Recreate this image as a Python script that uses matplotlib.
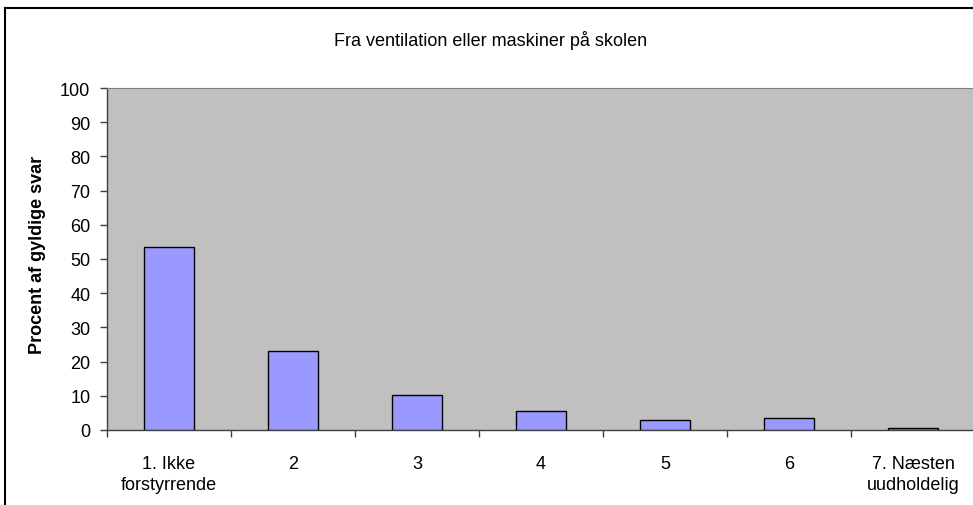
import matplotlib.pyplot as plt
from matplotlib.lines import Line2D
from matplotlib.ticker import FixedLocator

plt.rcParams["font.family"] = ["Liberation Sans", "DejaVu Sans"]

categories = ["1. Ikke\nforstyrrende", "2", "3", "4", "5", "6", "7. Næsten\nuudholdelig"]
values = [53.5, 23.1, 10.2, 5.6, 2.8, 3.6, 0.7]
title = "Fra ventilation eller maskiner på skolen"
ylabel = "Procent af gyldige svar"

fig = plt.figure(figsize=(9.73, 5.06), dpi=100)
ax = fig.add_axes([107 / 973, 1 - 431 / 506, 868 / 973, 342 / 506])

x = list(range(len(categories)))
ax.bar(x, values, width=0.4, color="#9999FF", edgecolor="black", linewidth=1, zorder=3)

ax.set_facecolor("#C0C0C0")
ax.set_xlim(-0.5, len(categories) - 0.5)
ax.set_ylim(0, 100)
ax.set_yticks(range(0, 101, 10))
ax.set_xticks(x)
ax.set_xticklabels(categories, fontsize=13, linespacing=1.3)
ax.xaxis.set_minor_locator(FixedLocator([i - 0.5 for i in range(len(categories) + 1)]))
ax.tick_params(axis="x", which="major", length=0, pad=18)
ax.tick_params(axis="x", which="minor", length=5, width=1, color="#404040")
ax.tick_params(axis="y", length=5, width=1, color="#404040", labelsize=13, pad=7)

for s in ("left", "bottom"):
    ax.spines[s].set_color("#404040")
    ax.spines[s].set_linewidth(1)
ax.spines["top"].set_color("#808080")
ax.spines["right"].set_visible(False)

ax.set_ylabel(ylabel, fontsize=13, fontweight="bold")
ax.yaxis.set_label_coords(-0.07, 0.515)
fig.text(491 / 973, 1 - 40 / 506, title, ha="center", va="center", fontsize=13)

# outer chart frame
fig.add_artist(Line2D([4.5 / 973, 4.5 / 973], [1 - 9 / 506, -0.01], color="black", lw=1.5,
                      transform=fig.transFigure))
fig.add_artist(Line2D([4.5 / 973, 1.01], [1 - 9 / 506, 1 - 9 / 506], color="black", lw=1.5,
                      transform=fig.transFigure))

fig.savefig("out.png", dpi=100)
